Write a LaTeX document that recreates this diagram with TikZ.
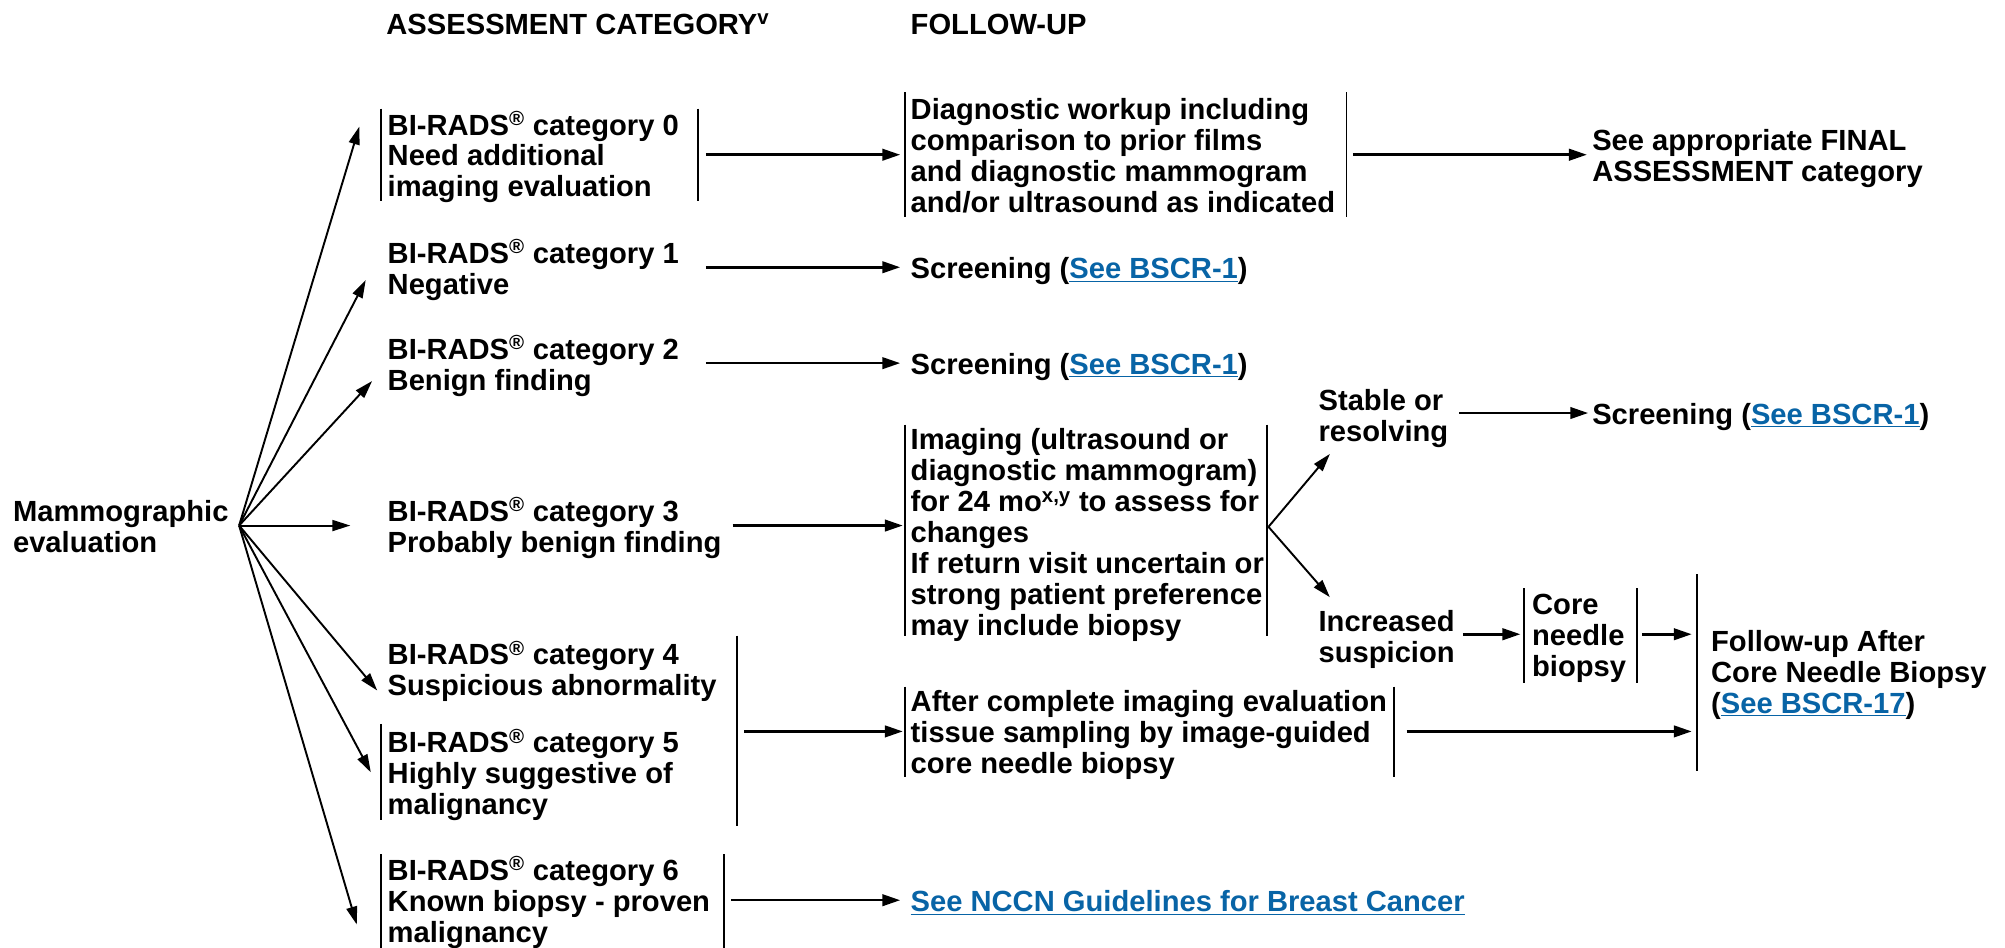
\documentclass[tikz,border=0pt]{standalone}
\usepackage{fontspec}
\setmainfont{Liberation Sans}
\usetikzlibrary{arrows.meta}
\definecolor{nccnblue}{RGB}{8,100,166}
\newcommand{\lnk}[1]{\textcolor{nccnblue}{\underline{#1}}}
\newcommand{\reg}{\textsuperscript{®}}
\tikzset{
  txt/.style={anchor=base west, align=left, inner sep=0pt, font=\fontsize{22.8}{24.2}\selectfont\bfseries},
  bar/.style={line width=1.5pt},
  arr/.style={line width=2pt, -{Triangle[length=14pt,width=9pt]}},
  darr/.style={line width=1.5pt, -{Triangle[length=14pt,width=8.5pt]}}
}
\begin{document}
\begin{tikzpicture}[x=1pt,y=-1pt]
\useasboundingbox (0,0) rectangle (1568,741);
% headings (anchor = baseline of last line)
\node[txt] (hA) at (302,27) {ASSESSMENT CATEGORY\textsuperscript{v}};
\node[txt] (hF) at (712,27) {FOLLOW-UP};
% left
\node[txt] (mam) at (10,432) {Mammographic\\evaluation};
% categories
\node[txt] (c0) at (303,154) {BI-RADS\reg{} category 0\\Need additional\\imaging evaluation};
\node[txt] (c1) at (303,230) {BI-RADS\reg{} category 1\\Negative};
\node[txt] (c2) at (303,305) {BI-RADS\reg{} category 2\\Benign finding};
\node[txt] (c3) at (303,432) {BI-RADS\reg{} category 3\\Probably benign finding};
\node[txt] (c4) at (303,544) {BI-RADS\reg{} category 4\\Suspicious abnormality};
\node[txt] (c5) at (303,637) {BI-RADS\reg{} category 5\\Highly suggestive of\\malignancy};
\node[txt] (c6) at (303,737) {BI-RADS\reg{} category 6\\Known biopsy - proven\\malignancy};
% follow-up
\node[txt] (f0) at (712,166) {Diagnostic workup including\\comparison to prior films\\and diagnostic mammogram\\and/or ultrasound as indicated};
\node[txt] (fin) at (1245,142) {See appropriate FINAL\\ASSESSMENT category};
\node[txt] (s1) at (712,218) {Screening (\lnk{See BSCR-1})};
\node[txt] (s2) at (712,293) {Screening (\lnk{See BSCR-1})};
\node[txt] (img) at (712,497) {Imaging (ultrasound or\\diagnostic mammogram)\\for 24 mo\textsuperscript{x,y} to assess for\\changes\\If return visit uncertain or\\strong patient preference\\may include biopsy};
\node[txt] (stab) at (1031,345) {Stable or\\resolving};
\node[txt] (s3) at (1245,332) {Screening (\lnk{See BSCR-1})};
\node[txt] (incr) at (1031,518) {Increased\\suspicion};
\node[txt] (core) at (1198,529) {Core\\needle\\biopsy};
\node[txt] (fu) at (1338,558) {Follow-up After\\Core Needle Biopsy\\(\lnk{See BSCR-17})};
\node[txt] (aft) at (712,605) {After complete imaging evaluation\\tissue sampling by image-guided\\core needle biopsy};
\node[txt] (nccn) at (712,713) {\lnk{See NCCN Guidelines for Breast Cancer}};
% bars
\draw[bar] (298,85) -- (298,157);
\draw[bar] (546,85) -- (546,157);
\draw[bar] (298,566) -- (298,641);
\draw[bar] (576,497) -- (576,646);
\draw[bar] (298,668) -- (298,741);
\draw[bar] (566,668) -- (566,741);
\draw[bar] (708,72) -- (708,170);
\draw[bar] (1053,72) -- (1053,170);
\draw[bar] (708,332) -- (708,497);
\draw[bar] (991,332) -- (991,497);
\draw[bar] (1192,460) -- (1192,534);
\draw[bar] (1280,460) -- (1280,534);
\draw[bar] (1327,449) -- (1327,603);
\draw[bar] (708,537) -- (708,608);
\draw[bar] (1090,537) -- (1090,608);
% coordinates
\coordinate (B) at (187,411);
\coordinate (t0) at (281,99);
\coordinate (t1) at (286,219);
\coordinate (t2) at (291,298);
\coordinate (t3) at (274,411);
\coordinate (t4) at (295,540);
\coordinate (t5) at (290,604);
\coordinate (t6) at (279,723);
\foreach \t in {t0,t1,t2,t3,t4,t5,t6} \draw[darr] (B) -- (\t);
\coordinate (a0s) at (552,121); \coordinate (a0e) at (704,121);
\coordinate (a1s) at (552,209); \coordinate (a1e) at (704,209);
\coordinate (a2s) at (552,284); \coordinate (a2e) at (704,284);
\coordinate (a3s) at (573,411); \coordinate (a3e) at (706,411);
\coordinate (a4s) at (582,572); \coordinate (a4e) at (706,572);
\coordinate (a6s) at (572,704); \coordinate (a6e) at (704,704);
\coordinate (fs) at (1058,121); \coordinate (fe) at (1241,121);
\coordinate (IB) at (992,412);
\coordinate (st) at (1040,355);
\coordinate (it) at (1040,467);
\coordinate (ss) at (1141,323); \coordinate (se) at (1242,323);
\coordinate (cs) at (1144,496); \coordinate (ce) at (1189,496);
\coordinate (ks) at (1284,496); \coordinate (ke) at (1323,496);
\coordinate (as) at (1100,572); \coordinate (ae) at (1323,572);
\draw[arr] (a0s) -- (a0e);
\draw[arr] (a1s) -- (a1e);
\draw[arr] (a2s) -- (a2e);
\draw[arr] (a3s) -- (a3e);
\draw[arr] (a4s) -- (a4e);
\draw[arr] (a6s) -- (a6e);
\draw[arr] (fs) -- (fe);
\draw[darr] (IB) -- (st);
\draw[darr] (IB) -- (it);
\draw[arr] (ss) -- (se);
\draw[arr] (cs) -- (ce);
\draw[arr] (ks) -- (ke);
\draw[arr] (as) -- (ae);
\end{tikzpicture}
\end{document}
